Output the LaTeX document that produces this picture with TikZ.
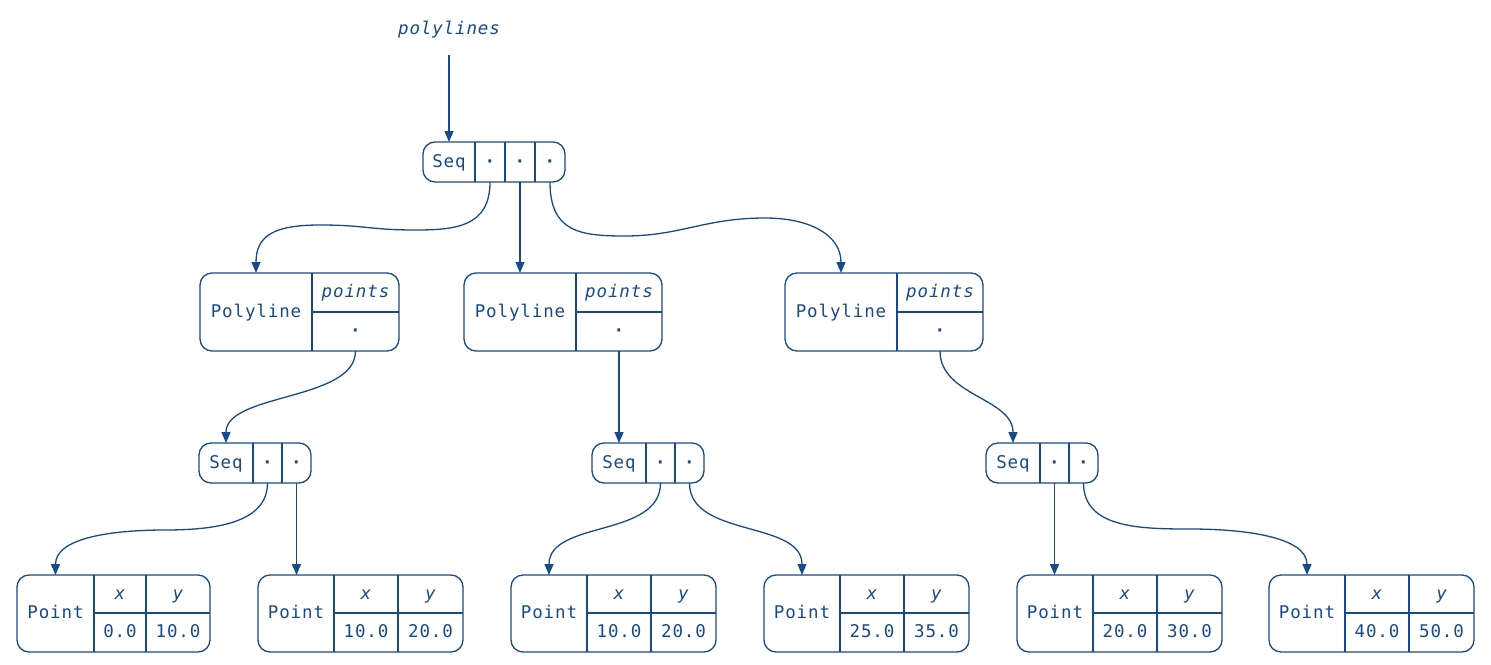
\documentclass[tikz,border=0pt]{standalone}
\usepackage{fontspec}
\newfontfamily\recfont{DejaVu Sans Mono}[LetterSpace=5]
\usetikzlibrary{arrows.meta}
\definecolor{ink}{RGB}{24,74,136}
\tikzset{
 frame/.style={draw=ink, line width=1.3pt, rounded corners=12pt, inner sep=0pt, outer sep=0pt, anchor=north west},
 cell/.style={inner sep=0pt, outer sep=0pt, anchor=north west, text=ink, text height=12.5pt, text depth=2pt, font=\recfont\fontsize{17.5}{20}\selectfont},
 icell/.style={cell, font=\recfont\itshape\fontsize{17.5}{20}\selectfont},
 div/.style={draw=ink, line width=1.3pt},
 arr/.style={draw=ink, line width=1.3pt, -{Triangle[length=11pt,width=9pt]}},
}
\newcommand\dotc{{\bfseries ·}}
\newcommand\SeqTwo[2]{%
 \node[frame, minimum width=112pt, minimum height=40pt] (#1) at (#2,443) {};
 \node[cell, minimum width=54pt, minimum height=40pt] (#1a) at (#2,443) {Seq};
 \node[cell, minimum width=29pt, minimum height=40pt] (#1b) at (#2+54,443) {\dotc};
 \node[cell, minimum width=29pt, minimum height=40pt] (#1c) at (#2+83,443) {\dotc};
 \draw[div] (#1b.north west) -- (#1b.south west) (#1c.north west) -- (#1c.south west);
}
\newcommand\PolyRec[3]{%
 \node[frame, minimum width=#3pt, minimum height=78pt] (#1) at (#2,273) {};
 \node[cell, minimum width=112pt, minimum height=78pt] (#1a) at (#2,273) {Polyline};
 \node[icell, minimum width=#3pt-112pt, minimum height=39pt] (#1b) at (#2+112,273) {points};
 \node[cell, minimum width=#3pt-112pt, minimum height=39pt] (#1c) at (#2+112,312) {\dotc};
 \draw[div] (#1b.north west) -- (#1c.south west) (#1b.south west) -- (#1b.south east);
}
\newcommand\PointRec[7]{%
 \node[frame, minimum width=#3pt+#4pt+#5pt, minimum height=77pt] (#1) at (#2,575) {};
 \node[cell, minimum width=#3pt, minimum height=77pt] (#1a) at (#2,575) {Point};
 \node[icell, minimum width=#4pt, minimum height=38pt] (#1b) at (#2+#3,575) {x};
 \node[icell, minimum width=#5pt, minimum height=38pt] (#1c) at (#2+#3+#4,575) {y};
 \node[cell, minimum width=#4pt, minimum height=39pt] (#1d) at (#2+#3,613) {#6};
 \node[cell, minimum width=#5pt, minimum height=39pt] (#1e) at (#2+#3+#4,613) {#7};
 \draw[div] (#1b.north west) -- (#1d.south west) (#1c.north west) -- (#1e.south west) (#1b.south west) -- (#1c.south east);
}
\begin{document}
\begin{tikzpicture}[x=1pt,y=-1pt]
\useasboundingbox (0,0) rectangle (1491,664);
% label
\node[icell, anchor=center] (lbl) at (449,29) {polylines};
\coordinate (c0) at (449,55);
% top Seq
\node[frame, minimum width=142pt, minimum height=40pt] (s0) at (423,142) {};
\node[cell, minimum width=52pt, minimum height=40pt] (s0a) at (423,142) {Seq};
\node[cell, minimum width=30pt, minimum height=40pt] (s0b) at (475,142) {\dotc};
\node[cell, minimum width=30pt, minimum height=40pt] (s0c) at (505,142) {\dotc};
\node[cell, minimum width=30pt, minimum height=40pt] (s0d) at (535,142) {\dotc};
\draw[div] (s0b.north west) -- (s0b.south west) (s0c.north west) -- (s0c.south west) (s0d.north west) -- (s0d.south west);
% polylines
\PolyRec{l1}{200}{199}
\PolyRec{l2}{464}{198}
\PolyRec{l3}{785}{198}
% seqs
\SeqTwo{q1}{199}
\SeqTwo{q2}{592}
\SeqTwo{q3}{986}
% points
\PointRec{p1}{17}{77}{52}{64}{0.0}{10.0}
\PointRec{p2}{258}{76}{64}{65}{10.0}{20.0}
\PointRec{p3}{511}{76}{64}{65}{10.0}{20.0}
\PointRec{p4}{764}{76}{64}{65}{25.0}{35.0}
\PointRec{p5}{1017}{76}{64}{65}{20.0}{30.0}
\PointRec{p6}{1269}{76}{64}{65}{40.0}{50.0}
% edges
\draw[arr] (c0) -- (s0a.north);
\draw[arr] (s0b.south) .. controls +(0,45) and +(40,0) .. (415,230) .. controls +(-45,0) and +(45,0) .. (320,225) .. controls +(-45,0) and +(0,-38) .. (l1a.north);
\draw[arr] (s0c.south) -- (s0c.south |- l2a.north);
\draw[arr] (s0d.south) .. controls +(0,50) and +(-45,0) .. (625,236) .. controls +(55,0) and +(-60,0) .. (765,218) .. controls +(45,0) and +(0,-38) .. (l3a.north);
\draw[arr] (l1c.south) .. controls +(0,50) and +(0,-50) .. (q1a.north);
\draw[arr] (l2c.south) -- (l2c.south |- q2a.north);
\draw[arr] (l3c.south) .. controls +(0,45) and +(0,-45) .. (q3a.north);
\draw[arr] (q1b.south) .. controls +(0,40) and +(50,0) .. (165,530) .. controls +(-50,0) and +(0,-38) .. (p1a.north);
\draw[arr] (q1c.south) -- (q1c.south |- p2a.north);
\draw[arr] (q2b.south) .. controls +(0,55) and +(0,-55) .. (p3a.north);
\draw[arr] (q2c.south) .. controls +(0,55) and +(0,-55) .. (p4a.north);
\draw[arr] (q3b.south) -- (q3b.south |- p5a.north);
\draw[arr] (q3c.south) .. controls +(0,45) and +(-50,0) .. (1190,529) .. controls +(55,0) and +(0,-38) .. (p6a.north);
\end{tikzpicture}
\end{document}
